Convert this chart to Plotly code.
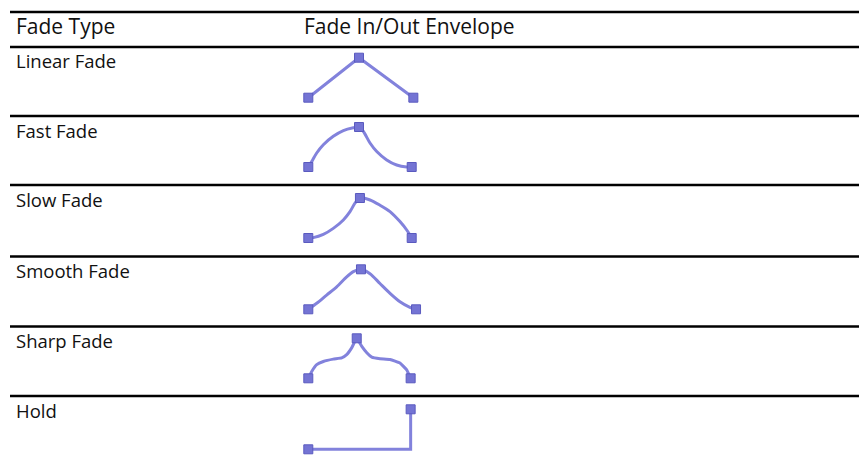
import plotly.graph_objects as go

# ---------------- data ----------------
header_labels = ["Fade Type", "Fade In/Out Envelope"]
fade_types = ["Linear Fade", "Fast Fade", "Slow Fade", "Smooth Fade", "Sharp Fade", "Hold"]

# envelope shapes: normalized time (0..1) and gain (0..1)
linear_t = [0.0, 0.489, 1.013]
linear_g = [0.0, 1.0, 0.0]

fast_t = [0.0, 0.033, 0.081, 0.145, 0.241, 0.338, 0.434, 0.489, 0.53, 0.595, 0.66, 0.756, 0.852, 0.949, 0.997]
fast_g = [0.0, 0.134, 0.35, 0.557, 0.767, 0.911, 0.98, 1.0, 0.894, 0.6, 0.388, 0.177, 0.05, 0.0, 0.0]

slow_t = [0.0, 0.048, 0.145, 0.241, 0.338, 0.402, 0.45, 0.498, 0.595, 0.691, 0.788, 0.884, 0.949, 0.997]
slow_g = [0.0, 0.01, 0.09, 0.24, 0.45, 0.66, 0.87, 1.0, 0.95, 0.82, 0.66, 0.41, 0.2, 0.0]

smooth_t = [0.0, 0.081, 0.177, 0.274, 0.37, 0.434, 0.508, 0.595, 0.691, 0.788, 0.884, 0.98, 1.039]
smooth_g = [0.0, 0.15, 0.355, 0.56, 0.81, 0.94, 1.0, 0.89, 0.645, 0.4, 0.19, 0.05, 0.0]

sharp_t = [0.0, 0.033, 0.081, 0.145, 0.241, 0.322, 0.37, 0.418, 0.467, 0.516, 0.564, 0.612, 0.692, 0.788, 0.884, 0.949, 0.987]
sharp_g = [0.0, 0.17, 0.34, 0.42, 0.48, 0.51, 0.59, 0.76, 1.0, 0.8, 0.64, 0.53, 0.49, 0.47, 0.38, 0.21, 0.0]

hold_t = [0.0, 0.987, 0.987]
hold_g = [0.0, 0.0, 1.0]

envelopes_t = [linear_t, fast_t, slow_t, smooth_t, sharp_t, hold_t]
envelopes_g = [linear_g, fast_g, slow_g, smooth_g, sharp_g, hold_g]
line_shapes = ["linear", "spline", "spline", "spline", "spline", "linear"]
line_smoothing = [0, 0.8, 0.8, 0.8, 0.35, 0]

# ---------------- layout (window pixels) ----------------
OFF = 8  # default page body margin of the written html
W, H = 867 - OFF, 464 - 2 * OFF  # figure fits inside the window without scrolling
rule_y = [12, 47, 116, 185, 256.5, 326.5, 396]
rule_x0 = 10
env_bottom = [97.7, 167.0, 238.0, 309.3, 378.3, 449.3]   # pixel y of gain 0 for each row
px_per_gain = 40.0
t0_px, px_per_t = 308.3, 103.7
text_x = 13.5
header_x2 = 301.5

LINE_COLOR = "#8282dc"
MARK_COLOR = "#7474d4"
MARK_EDGE = "#5a5abf"
FONT = "Open Sans"
TEXT_COLOR = "#111111"


def py(y):
    return 1 - (y - OFF) / H


def pxx(x):
    return (x - OFF) / W


fig = go.Figure()

xd0, xd1 = 280, 440
xaxis = dict(domain=[pxx(xd0), pxx(xd1)],
             range=[(xd0 - t0_px) / px_per_t, (xd1 - t0_px) / px_per_t],
             visible=False, fixedrange=True)
layout_axes = {"xaxis": xaxis}

for i, (t, g) in enumerate(zip(envelopes_t, envelopes_g)):
    yname = "y" if i == 0 else f"y{i + 1}"
    lname = "yaxis" if i == 0 else f"yaxis{i + 1}"
    b = env_bottom[i]
    top_px = b - 50
    bot_px = min(b + 6, OFF + H)
    layout_axes[lname] = dict(domain=[py(bot_px), py(top_px)],
                              range=[-(bot_px - b) / px_per_gain, (b - top_px) / px_per_gain],
                              visible=False, fixedrange=True)
    line = dict(color=LINE_COLOR, width=3, shape=line_shapes[i])
    if line_shapes[i] == "spline":
        line["smoothing"] = line_smoothing[i]
    fig.add_trace(go.Scatter(x=t, y=g, xaxis="x", yaxis=yname, mode="lines",
                             line=line, hoverinfo="skip", showlegend=False))
    peak = max(range(len(g)), key=lambda k: g[k])
    idx = sorted(set([0, peak, len(t) - 1]))
    fig.add_trace(go.Scatter(x=[t[k] for k in idx], y=[g[k] for k in idx],
                             xaxis="x", yaxis=yname, mode="markers",
                             marker=dict(symbol="square", size=9, color=MARK_COLOR,
                                         line=dict(color=MARK_EDGE, width=1)),
                             cliponaxis=False, hoverinfo="skip", showlegend=False))

shapes = []
for y in rule_y:
    shapes.append(dict(type="line", xref="paper", yref="paper",
                       x0=pxx(rule_x0), x1=1.0, y0=py(y), y1=py(y),
                       line=dict(color="black", width=2.5)))

annotations = []
hdr_y = 25.5
for lbl, x in zip(header_labels, [text_x, header_x2]):
    annotations.append(dict(text=lbl, x=pxx(x), y=py(hdr_y), xref="paper", yref="paper",
                            xanchor="left", yanchor="middle", showarrow=False,
                            font=dict(family=FONT, size=21, color=TEXT_COLOR)))
for i, name in enumerate(fade_types):
    y = rule_y[i + 1] + 14
    annotations.append(dict(text=name, x=pxx(text_x), y=py(y), xref="paper", yref="paper",
                            xanchor="left", yanchor="middle", showarrow=False,
                            font=dict(family=FONT, size=18.5, color=TEXT_COLOR)))

fig.update_layout(width=W, height=H, margin=dict(l=0, r=0, t=0, b=0),
                  paper_bgcolor="white", plot_bgcolor="white",
                  shapes=shapes, annotations=annotations, **layout_axes)

fig.write_html("out.html")
